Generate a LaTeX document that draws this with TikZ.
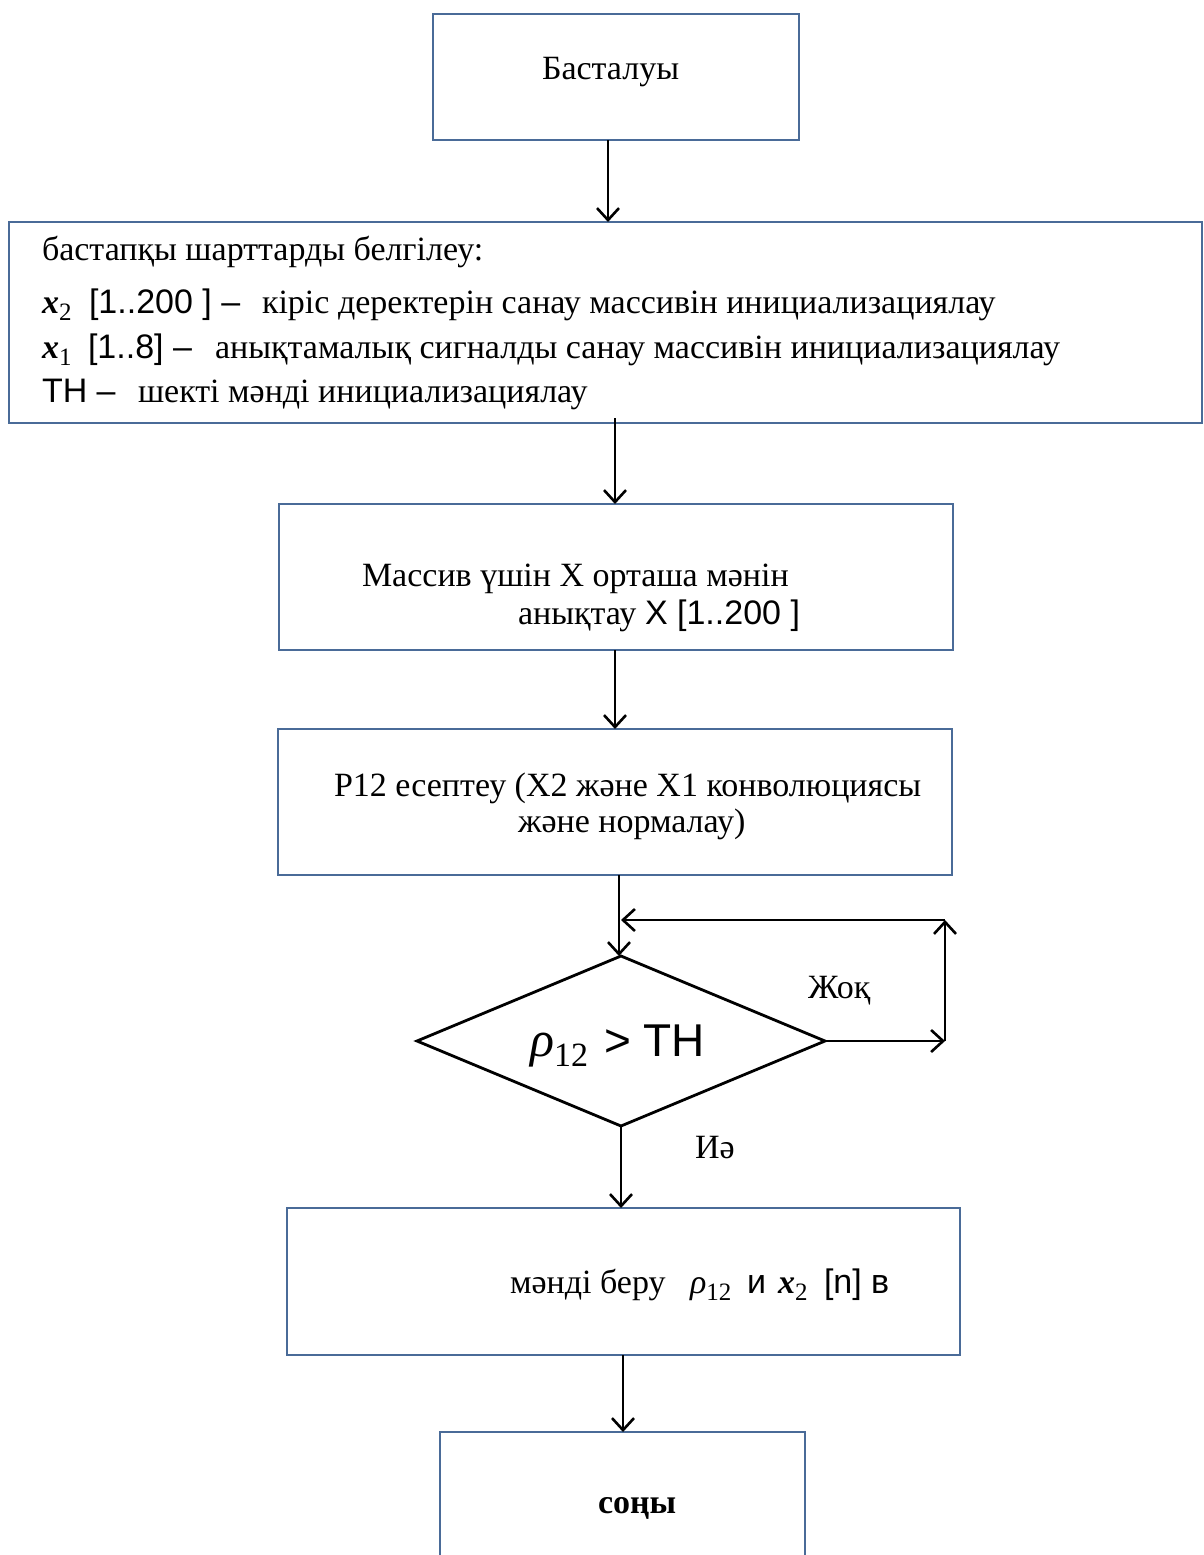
\documentclass[tikz,border=0pt]{standalone}
\usepackage{fontspec}
\setmainfont{Liberation Serif}
\newfontfamily\arialf{Liberation Sans}
\usetikzlibrary{arrows.meta,shapes.geometric}
\definecolor{boxblue}{HTML}{4A6B98}
\tikzset{
  frame/.style={draw=boxblue, line width=2.6pt, rectangle, inner sep=0pt, outer sep=0pt},
  dec/.style={draw=black, line width=2.8pt, shape=diamond, inner sep=0pt, outer sep=0pt},
  arr/.style={draw=black, line width=2.6pt, -{Straight Barb[length=12pt,width=22pt,line width=2.6pt]}},
  txt/.style={inner sep=0pt, outer sep=0pt, anchor=base west, font=\fontsize{34}{38}\selectfont},
  sans/.style={inner sep=0pt, outer sep=0pt, anchor=base west, font=\fontsize{34}{38}\selectfont\arialf},
  big/.style={inner sep=0pt, outer sep=0pt, anchor=base west, font=\fontsize{46}{50}\selectfont\arialf},
}
% italic symbol with a lowered index: #1 symbol size, #2 index size, #3 drop, #4 symbol, #5 index
\newcommand{\idx}[5]{{\fontsize{#1}{#1}\selectfont #4}\raisebox{-#3}{\fontsize{#2}{#2}\selectfont #5}}
\begin{document}
\begin{tikzpicture}[x=1pt,y=-1pt]
\clip (0,0) rectangle (1204,1555);
\fill[white] (0,0) rectangle (1204,1555);

% boxes
\node[frame, minimum width=366pt, minimum height=126pt] (start) at (616,77) {};
\node[frame, minimum width=1193pt, minimum height=201pt] (init) at (605.5,322.5) {};
\node[frame, minimum width=674pt, minimum height=146pt] (mean) at (616,577) {};
\node[frame, minimum width=674pt, minimum height=146pt] (corr) at (615,802) {};
\node[dec, minimum width=408pt, minimum height=170pt] (test) at (621,1041) {};
\node[frame, minimum width=673pt, minimum height=147pt] (give) at (623.5,1281.5) {};
\node[frame, minimum width=365pt, minimum height=170pt] (stop) at (622.5,1517) {};

% start
\node[txt] (tstart) at (542,80) {Басталуы};

% initial conditions
\node[txt] (t1) at (42,260) {бастапқы шарттарды белгілеу:};
\node[txt] (t2a) at (42,313) {\idx{34}{25}{7pt}{\bfseries\itshape x}{2}};
\node[sans] (t2b) at (89,313) {[1..200 ] –};
\node[txt] (t2c) at (262,313) {кіріс деректерін санау массивін инициализациялау};
\node[txt] (t3a) at (42,358) {\idx{34}{25}{7pt}{\bfseries\itshape x}{1}};
\node[sans] (t3b) at (88,358) {[1..8] –};
\node[txt] (t3c) at (215,358) {анықтамалық сигналды санау массивін инициализациялау};
\node[sans] (t4a) at (42,402) {TH –};
\node[txt] (t4c) at (138,402) {шекті мәнді инициализациялау};

% mean value
\node[txt] (tm1) at (362,586) {Массив үшін X орташа мәнін};
\node[txt] (tm2) at (518,624) {анықтау};
\node[sans] (tm3) at (645,624) {X [1..200 ]};

% correlation
\node[txt] (tc1) at (334,796) {P12 есептеу (X2 және X1 конволюциясы};
\node[txt] (tc2) at (518,832) {және нормалау)};

% decision
\node[txt] (trho) at (530,1056) {\idx{50}{34}{10pt}{\itshape ρ}{12}};
\node[big] (tth) at (604,1056) {> TH};
\node[txt] (tno) at (808,998) {Жоқ};
\node[txt] (tyes) at (695,1158) {Иә};

% result
\node[txt] (tg1) at (510,1293) {мәнді беру};
\node[txt] (tg2) at (690,1293) {\idx{34}{25}{7pt}{\itshape ρ}{12}};
\node[sans] (tg3) at (747,1293) {и};
\node[txt] (tg4) at (778,1293) {\idx{34}{25}{7pt}{\bfseries\itshape x}{2}};
\node[sans] (tg5) at (824,1293) {[n] в};

% end
\node[txt, font=\fontsize{34}{38}\selectfont\bfseries] (tstop) at (598,1513) {соңы};

% connectors
\draw[arr] ([xshift=-8pt]start.south) -- ([xshift=-8pt]start.south |- init.north);
\draw[arr] ([xshift=9.5pt,yshift=5pt]init.south) -- ([xshift=9.5pt]init.south |- mean.north);
\draw[arr] ([xshift=-1pt]mean.south) -- ([xshift=-1pt]mean.south |- corr.north);
\draw[arr] ([xshift=4pt]corr.south) -- ([xshift=4pt]corr.south |- test.north);
\coordinate (cr) at (945,1041);
\coordinate (ct) at (945,920);
\coordinate (jn) at (621,920);
\draw[arr] (test.east) -- (cr);
\draw[arr] (cr) -- (ct);
\draw[arr] (ct) -- (jn);
\draw[arr] (test.south) -- (test.south |- give.north);
\draw[arr] ([xshift=-0.5pt]give.south) -- ([xshift=-0.5pt]give.south |- stop.north);
\end{tikzpicture}
\end{document}
